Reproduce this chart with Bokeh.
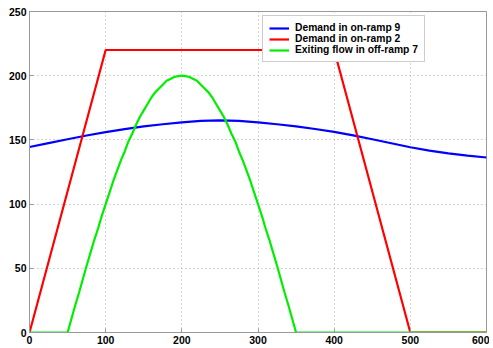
from bokeh.plotting import figure
from bokeh.models import Range1d, FixedTicker, Legend, LegendItem
from bokeh.embed import file_html
from bokeh.resources import INLINE

# Demand in on-ramp 9 (blue)
blue_x = [0, 25, 50, 75, 100, 125, 150, 175, 200, 225, 250, 275, 300,
          325, 350, 375, 400, 425, 450, 475, 500, 525, 550, 575, 600]
blue_y = [144.5, 147.5, 150.5, 153.4, 156.0, 158.4, 160.5, 162.2, 163.6, 164.8, 165.2, 164.8, 163.6,
          162.2, 160.5, 158.5, 156.3, 153.5, 150.5, 147.4, 144.3, 141.7, 139.5, 137.7, 136.3]

# Demand in on-ramp 2 (red)
red_x = [0, 100, 400, 500, 600]
red_y = [0, 220, 220, 0, 0]

# Exiting flow in off-ramp 7 (green), read every 5 units from 50 to 350
green_x = [0] + list(range(50, 355, 5)) + [600]
green_rise = [0, 10.5, 21, 31, 41.5, 52, 62, 72, 81, 91, 100, 109, 118, 126, 134, 141,
              149, 155, 162, 168, 173, 178, 183, 187, 190, 193, 196, 197.5, 199, 199.7]
green_y = [0] + green_rise + [200] + green_rise[::-1] + [0]

x_ticks = [0, 100, 200, 300, 400, 500, 600]
y_ticks = [0, 50, 100, 150, 200, 250]
labels = ["Demand in on-ramp 9", "Demand in on-ramp 2", "Exiting flow in off-ramp 7"]

p = figure(frame_width=457, frame_height=321, output_backend="svg", toolbar_location=None,
           x_range=Range1d(0, 600), y_range=Range1d(0, 250),
           min_border_left=29, min_border_top=11, min_border_right=3, min_border_bottom=14)
p.background_fill_color = "white"
p.border_fill_color = "white"
p.outline_line_color = "#999999"
p.outline_line_width = 1

for ax in (p.xaxis[0], p.yaxis[0]):
    ax.axis_line_color = "#999999"
    ax.major_tick_line_color = "#999999"
    ax.major_tick_in = 4
    ax.major_tick_out = 0
    ax.minor_tick_line_color = None
    ax.major_label_text_font = "Liberation Sans"
    ax.major_label_text_font_style = "bold"
    ax.major_label_text_font_size = "10.5px"
    ax.major_label_text_color = "black"
p.xaxis[0].ticker = FixedTicker(ticks=x_ticks)
p.yaxis[0].ticker = FixedTicker(ticks=y_ticks)
p.xaxis[0].major_label_standoff = 3
p.yaxis[0].major_label_standoff = 3

for g in (p.xgrid[0], p.ygrid[0]):
    g.grid_line_color = "#aaaaaa"
    g.grid_line_dash = "1 3"
    g.grid_line_width = 1
p.xgrid[0].ticker = FixedTicker(ticks=x_ticks)
p.ygrid[0].ticker = FixedTicker(ticks=y_ticks)

r1 = p.line(blue_x, blue_y, line_color="#0000ff", line_width=2.2)
r2 = p.line(red_x, red_y, line_color="#ff0000", line_width=2.2)
r3 = p.line(green_x, green_y, line_color="#00ee00", line_width=2.2)

legend = Legend(items=[LegendItem(label=labels[0], renderers=[r1]),
                       LegendItem(label=labels[1], renderers=[r2]),
                       LegendItem(label=labels[2], renderers=[r3])],
                location=(233, 270))
legend.label_text_font = "Liberation Sans"
legend.label_text_font_style = "bold"
legend.label_text_font_size = "10.3px"
legend.label_text_color = "black"
legend.glyph_width = 20
legend.glyph_height = 8
legend.label_height = 8
legend.spacing = 0
legend.padding = 6
legend.margin = 0
legend.label_standoff = 6
legend.border_line_color = "#999999"
legend.border_line_width = 1
legend.background_fill_color = "white"
legend.background_fill_alpha = 1.0
p.add_layout(legend, "center")

open("out.html", "w").write(file_html(p, INLINE))
